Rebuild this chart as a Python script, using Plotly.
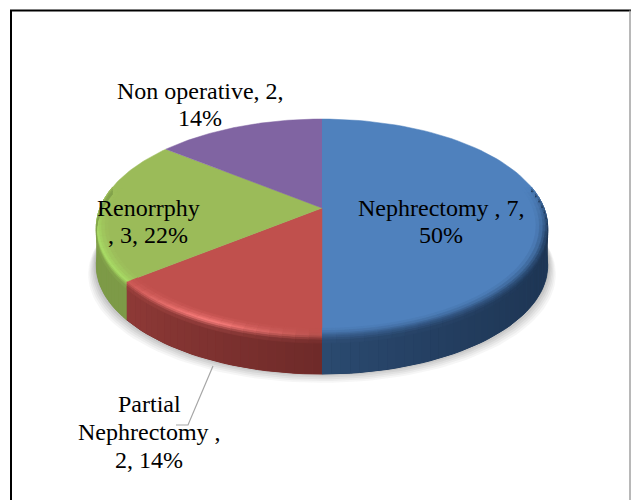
import numpy as np
import plotly.graph_objects as go

# ---- data ----
categories = ["Nephrectomy", "Partial Nephrectomy", "Renorrphy", "Non operative"]
values = [7, 2, 3, 2]
top_colors = ["#4f81bd", "#c0504d", "#9bbb59", "#8064a2"]
side_colors = [("#2b4a70", "#1d3452"), ("#6e2a29", "#8f3a37"), ("#7d9a47", "#7d9a47"), ("#5f4a7a", "#5f4a7a")]
rim_colors = [("#3a6090", "#2d4f78"), ("#e86a68", "#d45c58"), ("#a9dc66", "#a9dc66"), ("#8f70b5", "#8f70b5")]

# ---- tilted-disc projection (pixels) ----
CX, CY, A, B, K, DEPTH = 322.0, 208.0, 222.0, 105.0, 0.18, 38.0


def hexrgb(h):
    return np.array([int(h[i:i + 2], 16) for i in (1, 3, 5)], float)


def mix(a, b, t):
    t = float(np.clip(t, 0, 1))
    c = hexrgb(a) * (1 - t) + hexrgb(b) * t
    return "#%02x%02x%02x" % tuple(int(round(v)) for v in c)


def project(theta_deg, r=1.0, d=0.0):
    th = np.radians(theta_deg)
    w = 1 + K * r * np.cos(th)
    return CX + A * r * np.sin(th) / w, CY - B * r * np.cos(th) / w + d


def poly(xs, ys, color, opacity=1.0, width=1.4):
    return go.Scatter(x=list(xs), y=list(ys), mode="lines", fill="toself", fillcolor=color,
                      opacity=opacity, hoverinfo="skip", showlegend=False,
                      line=dict(color=color, width=width))


def wall_color(i, mid, f):
    if i == 0:  # blue side darkens toward the right hand rim
        return mix(side_colors[0][1], side_colors[0][0], max(0, (mid - 90) / 90) ** 2)
    return mix(*side_colors[i], f)


def rim_color(i, mid, f):
    if i == 1:  # highlight on the red rim
        if f < 0.55:
            return mix("#b5504c", "#f87c7a", f / 0.45)
        return mix("#f87c7a", "#cc5a56", (f - .55) / .45)
    if i == 0:
        return mix("#1f3a5c", rim_colors[0][0], max(0, (mid - 90) / 90))
    return mix(*rim_colors[i], f)


fig = go.Figure()
total = sum(values)
edges = np.concatenate([[0], np.cumsum(values)]) / total * 360.0

# soft shadow under the disc
ring = np.linspace(0, 360, 181)
for grow, alpha in [(1.036, .05), (1.03, .06), (1.024, .07), (1.018, .08), (1.012, .09), (1.006, .1)]:
    xs, ys = project(ring, 1.0)
    xs = CX + (xs - CX) * grow
    ys = CY + 36 + (ys - CY) + (grow - 1) * 300
    fig.add_trace(poly(xs, ys, "#505050", alpha, width=0))

STEP = 2.0
# side wall: a solid base per slice, then the shaded strips on top of it
for i in range(len(values)):
    a0, a1 = edges[i], edges[i + 1]
    n = max(1, int(np.ceil((a1 - a0) / STEP)))
    grid = np.linspace(a0, a1, n + 1)
    vis = grid[np.cos(np.radians(grid)) <= 0.12]
    if len(vis) > 1:
        xs, ys = project(vis)
        xb, yb = project(vis[::-1], 1.0, DEPTH)
        fig.add_trace(poly(np.r_[xs, xb], np.r_[ys, yb], mix(*side_colors[i], .5), width=1.0))
    for j in range(n):
        t0, t1 = grid[j], grid[j + 1]
        mid = (t0 + t1) / 2
        if np.cos(np.radians(mid)) > 0.12:
            continue
        f = (mid - a0) / (a1 - a0)
        col = wall_color(i, mid, f)
        x0, y0 = project(t0)
        x1, y1 = project(t1)
        fig.add_trace(poly([x0, x1, x1, x0], [y0, y1, y1 + DEPTH, y0 + DEPTH], col, width=0))

# flat wedges
for i in range(len(values)):
    th = np.linspace(edges[i], edges[i + 1], 80)
    xs, ys = project(th)
    fig.add_trace(poly(np.r_[CX, xs], np.r_[CY, ys], top_colors[i], width=0.5))

# bevel: blends from the flat colour to rim colour, then into the wall colour
BEVEL = 3.0
for i in range(len(values)):
    a0, a1 = edges[i], edges[i + 1]
    n = max(1, int(np.ceil((a1 - a0) / BEVEL)))
    grid = np.linspace(a0, a1, n + 1)
    for j in range(n):
        t0, t1 = grid[j], grid[j + 1]
        mid = (t0 + t1) / 2
        near = -np.cos(np.radians(mid))
        strength = float(np.clip((near + 0.2) / 0.45, 0, 1))
        if strength <= 0:
            continue
        f = (mid - a0) / (a1 - a0)
        rim = rim_color(i, mid, f)
        wall = wall_color(i, mid, f)
        flat = top_colors[i]
        bands = [(0.95, 0.965, 0, 0, mix(flat, rim, .12 * strength)),
                 (0.965, 0.98, 0, 0, mix(flat, rim, .35 * strength)),
                 (0.98, 0.99, 0, 0, mix(flat, rim, .65 * strength)),
                 (0.99, 1.0, 0, 0, mix(flat, rim, .95 * strength)),
                 (1.0, 1.0, 0, 2, mix(mix(flat, rim, strength), wall, .25 * max(strength, .4))),
                 (1.0, 1.0, 2, 4, mix(mix(flat, rim, strength), wall, .6)),
                 (1.0, 1.0, 4, 7, mix(rim, wall, .88))]
        for r0, r1, d0, d1, c in bands:
            xa, ya = project(t0, r0, d0)
            xb, yb = project(t1, r0, d0)
            xc, yc = project(t1, r1, d1)
            xd, yd = project(t0, r1, d1)
            fig.add_trace(poly([xa, xb, xc, xd], [ya, yb, yc, yd], c, width=0.7))

# leader line for the partial nephrectomy label
leader_x = [213, 188, 176]
leader_y = [366, 425, 425]
fig.add_trace(go.Scatter(x=leader_x, y=leader_y, mode="lines", hoverinfo="skip", showlegend=False,
                         line=dict(color="#a6a6a6", width=1.2)))

label_lines = [
    ("Nephrectomy , 7,", 441, 208), ("50%", 441, 235),
    ("Partial", 149, 404), ("Nephrectomy ,", 149, 432), ("2, 14%", 149, 460),
    ("Renorrphy", 148.5, 208), (", 3, 22%", 148, 235),
    ("Non operative, 2,", 200, 91), ("14%", 200, 118),
]
for txt, x, y in label_lines:
    fig.add_annotation(x=x, y=y, text=txt, showarrow=False, xanchor="center", yanchor="middle",
                       font=dict(family="Liberation Serif", size=24, color="#000000"))

# page frame: black left and top, grey right, open at the bottom
frame = [(11, 10.5, 11, 500, "#000000", 2), (10, 10.5, 631, 10.5, "#000000", 2), (630, 10.5, 630, 500, "#a0a0a0", 1.5)]
for x0, y0, x1, y1, c, w in frame:
    fig.add_shape(type="line", x0=x0, y0=y0, x1=x1, y1=y1, line=dict(color=c, width=w), layer="above")

fig.update_layout(width=631, height=500, margin=dict(l=0, r=0, t=0, b=0), showlegend=False,
                  paper_bgcolor="white", plot_bgcolor="white",
                  xaxis=dict(range=[0, 631], visible=False, fixedrange=True),
                  yaxis=dict(range=[500, 0], visible=False, fixedrange=True))
fig.write_html("out.html", config={"displayModeBar": False},
               post_script="document.body.style.margin='0';")
